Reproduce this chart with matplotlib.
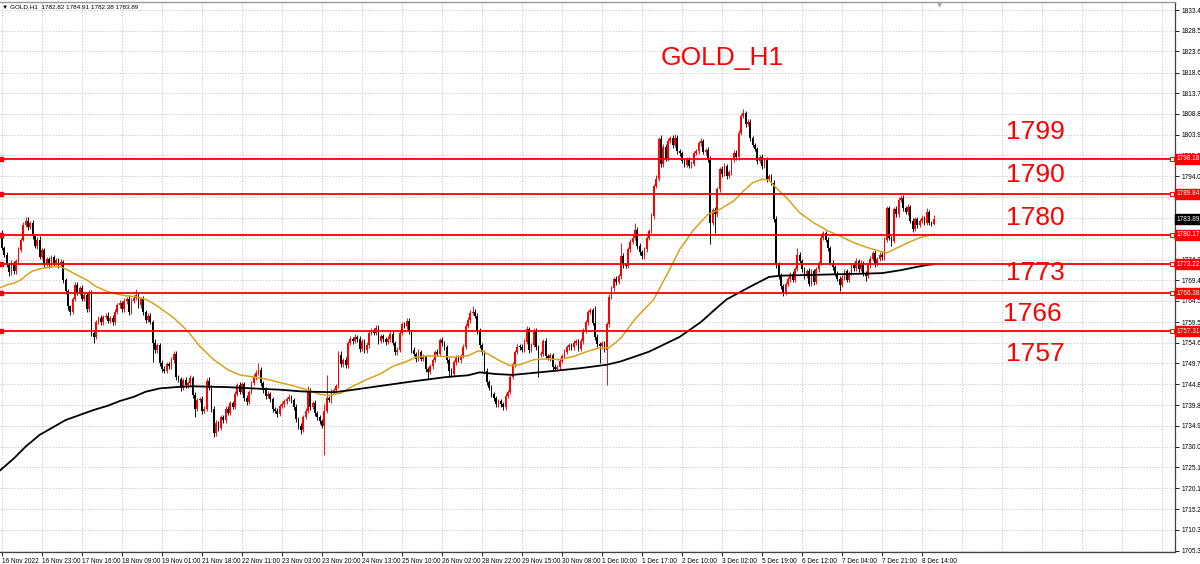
import matplotlib
matplotlib.use("Agg")
import matplotlib.pyplot as plt
import matplotlib.transforms as mtransforms

# ---------------- data ----------------
first_open = 1780.5
closes = [
    1777.0, 1775.4, 1773.0, 1771.4, 1773.5, 1771.5, 1774.0, 1776.6, 1779.0, 1782.5,
    1783.5, 1782.0, 1783.0, 1779.8, 1777.5, 1779.0, 1775.0, 1776.5, 1773.2, 1774.5,
    1773.0, 1774.8, 1773.5, 1774.2, 1773.0, 1773.8, 1769.5, 1766.8, 1763.2, 1762.0,
    1765.0, 1768.3, 1766.5, 1767.5, 1765.0, 1766.0, 1762.5, 1766.2, 1757.0, 1756.0,
    1759.5, 1760.5, 1759.5, 1760.8, 1761.0, 1759.8, 1760.5, 1759.5, 1762.0, 1763.5,
    1764.0, 1762.5, 1764.5, 1765.0, 1762.0, 1764.5, 1765.3, 1766.0, 1763.5, 1765.0,
    1761.8, 1760.0, 1761.0, 1759.6, 1754.5, 1753.0, 1754.0, 1749.8, 1748.5, 1748.0,
    1749.5, 1749.0, 1750.5, 1752.0, 1746.5, 1746.0, 1744.0, 1745.7, 1744.5, 1745.0,
    1746.3, 1742.2, 1739.0, 1741.0, 1741.3, 1738.5, 1739.0, 1745.5, 1744.0, 1739.0,
    1733.2, 1735.5, 1734.5, 1737.0, 1736.2, 1739.0, 1738.0, 1740.3, 1739.5, 1742.5,
    1744.5, 1743.0, 1744.8, 1741.5, 1740.5, 1743.0, 1745.0, 1746.5, 1747.5, 1748.2,
    1745.0, 1743.5, 1742.0, 1742.5, 1741.2, 1739.0, 1738.5, 1737.8, 1739.7, 1740.0,
    1740.8, 1741.2, 1741.8, 1741.0, 1739.5, 1736.5, 1735.0, 1734.0, 1737.0, 1738.5,
    1743.3, 1739.5, 1740.3, 1738.0, 1737.0, 1736.0, 1735.0, 1738.5, 1741.5, 1741.0,
    1743.0, 1743.5, 1744.3, 1751.8, 1749.5, 1750.5, 1749.3, 1754.5, 1755.5, 1755.0,
    1756.0, 1755.5, 1753.2, 1755.0, 1752.8, 1754.0, 1756.9, 1757.5, 1757.0, 1758.1,
    1755.0, 1756.2, 1755.5, 1754.8, 1755.5, 1756.8, 1754.5, 1752.4, 1753.0, 1757.0,
    1759.0, 1758.5, 1759.8, 1757.2, 1753.0, 1752.0, 1750.8, 1752.5, 1750.8, 1751.2,
    1748.4, 1747.6, 1749.0, 1750.5, 1752.4, 1752.0, 1755.3, 1754.5, 1753.5, 1750.5,
    1748.0, 1747.2, 1750.0, 1751.0, 1750.5, 1751.4, 1753.7, 1758.5, 1760.0, 1761.6,
    1762.0, 1761.0, 1757.5, 1754.0, 1752.5, 1748.0, 1745.2, 1744.0, 1742.5, 1741.5,
    1740.0, 1740.8, 1740.0, 1739.3, 1742.0, 1743.0, 1746.6, 1749.5, 1752.5, 1753.7,
    1753.5, 1753.0, 1754.9, 1757.8, 1753.0, 1754.0, 1757.5, 1753.5, 1751.8, 1752.0,
    1755.0, 1751.4, 1751.0, 1751.6, 1748.9, 1748.5, 1748.8, 1750.3, 1751.5, 1752.5,
    1753.5, 1754.0, 1753.5, 1754.6, 1755.0, 1753.2, 1755.0, 1757.5, 1759.5, 1761.8,
    1762.3, 1759.3, 1756.0, 1754.3, 1753.8, 1754.5, 1753.0, 1759.0, 1765.5, 1767.5,
    1769.6, 1769.0, 1770.4, 1775.1, 1773.0, 1772.8, 1776.7, 1778.5, 1779.5, 1781.4,
    1777.5, 1776.0, 1775.1, 1776.7, 1779.5, 1781.0, 1784.6, 1791.7, 1793.5, 1802.8,
    1797.0, 1801.0, 1798.2, 1802.5, 1803.0, 1801.5, 1803.2, 1800.0, 1799.5, 1797.6,
    1796.8, 1798.0, 1796.5, 1797.0, 1799.5, 1800.0, 1801.8, 1802.3, 1799.8, 1800.3,
    1798.0, 1783.0, 1786.0, 1785.0, 1790.9, 1795.7, 1794.5, 1796.5, 1794.1, 1795.0,
    1797.8, 1799.6, 1798.5, 1804.3, 1808.3, 1809.0, 1806.5, 1807.0, 1803.0, 1801.5,
    1800.4, 1797.6, 1798.5, 1796.4, 1797.8, 1793.3, 1794.0, 1792.5, 1784.0, 1773.0,
    1770.5, 1768.0, 1766.6, 1768.5, 1769.6, 1770.8, 1769.5, 1772.0, 1775.5, 1774.0,
    1772.0, 1770.5, 1771.5, 1768.6, 1771.5, 1769.0, 1772.0, 1773.5, 1779.5, 1780.5,
    1779.0, 1777.0, 1773.5, 1772.5, 1771.0, 1769.8, 1768.2, 1770.0, 1771.5, 1769.5,
    1771.2, 1773.0, 1772.2, 1774.0, 1772.0, 1773.5, 1771.0, 1770.5, 1773.0, 1774.5,
    1775.9, 1773.2, 1774.5, 1775.5, 1774.8, 1779.0, 1786.5, 1779.5, 1778.8, 1786.2,
    1785.0, 1788.5, 1789.0, 1786.5, 1785.5, 1786.8, 1783.5, 1781.5, 1783.8, 1782.5,
    1783.5, 1784.2, 1783.0, 1785.5, 1783.0, 1782.82, 1783.89,
]
wick_up = [
    0.8, 0.5, 0.7, 0.4, 0.6, 0.5, 0.4, 0.6, 0.5, 0.7,
    0.9, 1.0, 0.5, 0.6, 0.4, 0.6, 0.8, 0.5, 0.6, 0.5,
    0.4, 0.5, 0.6, 0.4, 0.5, 0.6, 0.4, 0.5, 0.6, 0.4,
    0.5, 0.6, 0.8, 0.5, 0.7, 0.5, 0.6, 0.8, 0.9, 0.5,
    0.6, 0.5, 0.7, 0.4, 0.6, 0.8, 0.5, 0.6, 0.5, 0.6,
    0.7, 0.5, 0.6, 0.5, 0.8, 0.6, 0.7, 1.3, 0.6, 0.5,
    0.6, 0.5, 0.7, 0.6, 0.5, 0.9, 0.6, 0.5, 0.7, 0.5,
    0.6, 0.5, 0.7, 0.6, 0.6, 0.5, 0.4, 0.6, 0.8, 0.5,
    0.6, 0.5, 0.7, 0.6, 0.5, 0.8, 0.6, 0.7, 0.9, 0.5,
    0.6, 0.7, 0.5, 0.6, 0.5, 0.7, 0.6, 0.5, 0.6, 0.7,
    0.6, 0.8, 0.5, 0.6, 0.7, 0.5, 0.6, 0.7, 0.6, 1.6,
    0.6, 0.5, 0.7, 0.6, 0.5, 0.6, 0.5, 0.6, 0.5, 0.6,
    0.5, 0.6, 0.7, 0.5, 0.6, 0.5, 0.6, 0.5, 0.6, 0.7,
    1.0, 0.6, 0.5, 0.7, 0.5, 0.6, 0.5, 1.5, 5.5, 0.6,
    0.7, 0.5, 0.6, 0.9, 0.8, 0.6, 0.7, 0.6, 0.7, 0.5,
    0.6, 0.5, 0.7, 0.5, 0.6, 0.8, 0.6, 0.5, 0.7, 0.6,
    0.7, 0.5, 0.6, 0.5, 0.6, 0.5, 0.7, 0.6, 0.5, 0.6,
    0.5, 0.6, 0.7, 0.6, 0.5, 0.6, 0.5, 0.6, 0.5, 0.7,
    0.6, 0.5, 0.6, 0.5, 0.6, 0.7, 0.5, 0.6, 0.5, 0.6,
    0.5, 0.6, 0.5, 0.7, 0.6, 0.5, 0.6, 0.7, 0.6, 0.8,
    1.2, 0.6, 0.7, 0.5, 0.6, 0.5, 0.6, 0.5, 0.6, 0.5,
    0.6, 0.5, 0.6, 0.5, 0.6, 0.5, 0.7, 0.6, 0.5, 0.6,
    0.6, 0.7, 0.5, 0.7, 0.6, 0.5, 0.6, 0.7, 0.5, 0.6,
    0.5, 0.7, 0.5, 0.6, 0.5, 0.6, 0.5, 0.6, 0.5, 0.6,
    0.5, 0.6, 0.5, 0.6, 0.5, 0.6, 0.7, 0.5, 0.6, 0.5,
    0.5, 0.6, 4.0, 0.6, 0.5, 0.6, 0.5, 0.6, 0.7, 0.6,
    0.5, 0.8, 0.6, 3.2, 0.7, 0.6, 0.5, 0.6, 0.7, 1.5,
    0.6, 0.7, 0.5, 0.6, 0.5, 0.6, 0.7, 0.6, 0.8, 0.5,
    1.0, 0.6, 0.7, 0.5, 0.6, 0.7, 0.8, 0.6, 0.5, 0.6,
    0.5, 0.6, 0.5, 0.6, 0.5, 0.6, 0.5, 0.7, 0.6, 0.5,
    0.6, 0.8, 0.6, 0.7, 0.6, 0.5, 0.7, 0.6, 0.5, 0.6,
    0.5, 0.6, 0.7, 0.6, 0.5, 0.9, 0.6, 0.5, 0.7, 0.6,
    0.5, 0.6, 0.5, 0.7, 0.6, 0.7, 0.6, 0.5, 0.7, 0.6,
    0.7, 0.6, 0.5, 0.6, 0.5, 0.6, 0.7, 0.5, 1.5, 0.6,
    0.5, 0.6, 0.5, 0.7, 0.6, 0.5, 0.6, 0.5, 0.7, 0.6,
    0.5, 0.6, 0.5, 0.6, 0.5, 0.6, 0.5, 0.6, 0.5, 0.6,
    0.5, 0.6, 0.5, 0.6, 0.5, 0.6, 0.5, 0.6, 0.5, 0.6,
    0.5, 0.6, 0.5, 0.6, 0.5, 0.6, 0.5, 0.6, 0.5, 0.6,
    0.7, 0.6, 0.7, 0.6, 0.5, 0.6, 0.5, 0.6, 0.5, 0.6,
    0.5, 0.6, 0.5, 1.1, 0.6, 0.5, 1.02,
]
wick_dn = [
    0.5, 0.6, 0.5, 1.0, 0.8, 0.6, 0.5, 0.6, 0.5, 0.4,
    0.5, 0.6, 0.5, 0.7, 0.5, 0.6, 0.5, 0.6, 0.7, 0.5,
    0.6, 0.5, 0.6, 0.5, 0.6, 0.5, 0.7, 0.6, 0.8, 0.8,
    0.6, 0.5, 0.6, 0.7, 0.6, 0.5, 0.7, 0.6, 0.8, 1.4,
    0.6, 0.5, 0.7, 0.6, 0.5, 0.6, 0.5, 0.6, 0.7, 0.5,
    0.6, 0.5, 0.7, 0.6, 0.8, 0.6, 0.5, 0.6, 0.7, 0.6,
    0.6, 0.7, 0.5, 0.6, 4.5, 0.8, 0.7, 0.6, 0.7, 0.6,
    0.5, 0.6, 0.5, 0.6, 0.7, 0.6, 0.8, 0.6, 0.5, 0.6,
    0.6, 0.7, 2.0, 0.6, 0.5, 0.7, 0.6, 0.5, 0.6, 0.7,
    0.8, 0.6, 0.7, 0.5, 0.6, 0.5, 0.6, 0.5, 0.6, 0.5,
    0.6, 0.5, 0.6, 0.7, 0.6, 0.5, 0.6, 0.5, 0.6, 0.5,
    0.6, 0.7, 0.6, 0.5, 0.6, 0.7, 0.6, 0.7, 0.5, 0.6,
    0.5, 0.6, 0.5, 0.6, 0.7, 0.6, 0.7, 1.0, 0.6, 0.5,
    0.6, 0.7, 0.6, 0.7, 0.6, 0.7, 0.6, 6.9, 0.6, 0.5,
    0.6, 0.5, 0.6, 0.5, 0.7, 0.6, 0.7, 0.6, 0.5, 0.6,
    0.5, 0.6, 0.7, 0.5, 0.6, 0.5, 0.6, 0.5, 0.6, 0.5,
    0.6, 0.5, 0.6, 0.7, 0.5, 0.6, 0.5, 0.7, 0.6, 0.5,
    0.6, 0.5, 0.6, 0.5, 0.7, 0.6, 0.7, 0.5, 0.6, 0.5,
    0.6, 1.7, 0.5, 0.6, 0.5, 0.6, 0.5, 0.6, 0.7, 0.6,
    1.4, 0.6, 0.5, 0.6, 0.5, 0.6, 0.5, 0.6, 0.5, 0.6,
    0.5, 0.6, 0.7, 0.6, 0.7, 0.6, 0.7, 0.6, 0.7, 0.6,
    0.7, 0.6, 0.7, 0.5, 0.6, 0.5, 0.6, 0.5, 0.6, 0.5,
    0.6, 0.5, 0.6, 0.5, 0.7, 0.6, 0.5, 0.6, 5.2, 0.6,
    0.5, 0.6, 0.5, 0.6, 0.7, 0.6, 0.5, 0.6, 0.5, 0.6,
    0.5, 0.6, 0.5, 0.6, 0.5, 0.6, 0.5, 0.6, 0.5, 0.6,
    0.5, 0.6, 0.7, 0.6, 4.0, 0.6, 0.5, 8.3, 0.6, 0.5,
    0.6, 0.7, 0.5, 0.6, 0.7, 0.6, 0.5, 0.6, 0.5, 0.6,
    0.7, 0.6, 0.7, 0.6, 0.5, 0.6, 0.5, 0.6, 0.5, 0.6,
    0.8, 0.7, 0.6, 0.5, 0.6, 0.7, 0.6, 0.7, 0.6, 0.5,
    0.6, 0.5, 0.6, 0.5, 0.6, 0.5, 0.6, 0.5, 0.6, 0.7,
    0.6, 5.0, 0.6, 4.3, 0.6, 0.5, 0.6, 0.5, 0.6, 0.5,
    0.6, 0.5, 0.6, 0.5, 0.6, 0.5, 0.7, 0.6, 0.7, 0.6,
    0.5, 0.6, 0.5, 0.6, 0.5, 0.6, 0.5, 0.6, 0.7, 0.8,
    0.7, 0.6, 1.0, 0.6, 0.5, 0.6, 0.5, 0.6, 0.5, 0.6,
    0.6, 0.7, 0.5, 0.6, 0.5, 0.6, 0.5, 0.6, 0.5, 0.6,
    0.5, 0.6, 0.5, 0.6, 0.5, 0.6, 1.3, 0.5, 0.6, 0.5,
    0.6, 0.5, 0.6, 0.5, 0.6, 0.5, 0.6, 1.3, 0.5, 0.6,
    0.5, 0.6, 0.5, 0.6, 0.5, 0.6, 0.5, 0.6, 1.3, 0.6,
    0.5, 0.6, 0.5, 0.6, 0.5, 0.6, 0.5, 0.6, 0.5, 0.6,
    0.5, 0.6, 0.5, 0.6, 0.5, 0.6, 0.44,
]

# moving averages, read at bar positions
ma_gold_bars = [-1, 2, 5, 8, 11, 13, 16, 19, 22, 25, 28, 32, 36, 40, 45, 49, 53, 57, 62, 66,
                73, 79, 84, 90, 96, 101, 107, 113, 118, 124, 130, 135, 139, 144, 149, 155,
                161, 166, 172, 176, 181, 186, 192, 198, 202, 204, 207, 212, 216, 220, 226,
                232, 237, 243, 249, 254, 258, 263, 269, 277, 283, 288, 294, 300, 305, 311,
                315, 319, 323, 326, 329, 334, 339, 345, 351, 356, 362, 368, 373, 376, 379,
                385, 390, 396]
ma_gold_vals = [1767.6, 1768.3, 1768.7, 1769.5, 1770.9, 1771.6, 1772.1, 1772.4, 1772.6, 1772.6,
                1771.8, 1770.6, 1769.5, 1767.9, 1766.7, 1766.1, 1765.7, 1765.5, 1764.7, 1763.3,
                1760.5, 1757.3, 1753.8, 1750.6, 1748.2, 1747.0, 1746.5, 1745.9, 1745.2, 1744.4,
                1743.4, 1742.4, 1742.1, 1742.7, 1744.3, 1745.9, 1747.3, 1749.0, 1750.2, 1751.2,
                1751.5, 1751.4, 1751.2, 1751.5, 1752.6, 1752.7, 1751.8, 1750.2, 1749.2, 1749.4,
                1750.6, 1750.8, 1750.6, 1751.4, 1752.6, 1753.4, 1753.4, 1755.7, 1760.2, 1764.9,
                1771.2, 1776.7, 1781.4, 1785.0, 1786.2, 1788.2, 1790.5, 1792.5, 1793.3, 1793.1,
                1791.3, 1788.6, 1785.4, 1783.0, 1781.1, 1779.9, 1778.3, 1777.1, 1776.3, 1775.9,
                1776.7, 1778.3, 1779.5, 1780.3]
ma_black_bars = [-1, 5, 10, 16, 22, 27, 33, 39, 45, 50, 56, 61, 67, 76, 81, 88, 96, 103, 110,
                 118, 127, 132, 141, 147, 161, 175, 189, 198, 203, 210, 217, 232, 246, 257,
                 263, 275, 288, 297, 303, 308, 318, 326, 331, 339, 353, 368, 374, 382, 389,
                 394, 396]
ma_black_vals = [1724.3, 1727.2, 1730.0, 1732.8, 1734.7, 1736.3, 1737.5, 1738.7, 1739.7, 1740.8,
                 1741.8, 1743.0, 1743.8, 1744.2, 1744.3, 1744.2, 1744.1, 1743.9, 1743.7, 1743.5,
                 1743.1, 1743.0, 1742.9, 1743.3, 1744.4, 1745.5, 1746.5, 1746.9, 1747.6, 1747.2,
                 1747.0, 1747.8, 1748.6, 1749.4, 1750.2, 1752.5, 1756.0, 1759.5, 1762.5, 1764.9,
                 1767.9, 1770.2, 1770.5, 1770.6, 1770.8, 1771.0, 1771.1, 1771.8, 1772.6, 1773.1,
                 1773.2]

levels = [1798.18, 1789.84, 1780.17, 1773.22, 1766.38, 1757.31]
level_texts = ["1799", "1790", "1780", "1773", "1766", "1757"]
current_price = 1783.89

price_ticks = [1833.40, 1828.50, 1823.60, 1818.60, 1813.70, 1808.80, 1803.90, 1799.00,
               1794.00, 1789.10, 1784.20, 1779.30, 1774.30, 1769.40, 1764.50, 1759.50,
               1754.60, 1749.70, 1744.80, 1739.80, 1734.90, 1730.00, 1725.10, 1720.10,
               1715.20, 1710.30, 1705.30]
time_labels = ["16 Nov 2022", "16 Nov 23:00", "17 Nov 16:00", "18 Nov 09:00", "19 Nov 01:00",
               "21 Nov 18:00", "22 Nov 11:00", "23 Nov 03:00", "23 Nov 20:00", "24 Nov 13:00",
               "25 Nov 10:00", "26 Nov 02:00", "28 Nov 22:00", "29 Nov 15:00", "30 Nov 08:00",
               "1 Dec 00:00", "1 Dec 17:00", "2 Dec 10:00", "3 Dec 02:00", "5 Dec 19:00",
               "6 Dec 12:00", "7 Dec 04:00", "7 Dec 21:00", "8 Dec 14:00"]
bars_per_label = 17
header = "\u25BC GOLD,H1  1782.82 1784.91 1782.38 1783.89"
title = "GOLD_H1"

# ---------------- derived OHLC ----------------
n = min(len(closes), len(wick_up), len(wick_dn))
closes = closes[:n]
opens = [first_open] + closes[:-1]
highs = [max(o, c) + u for o, c, u in zip(opens, closes, wick_up)]
lows = [min(o, c) - d for o, c, d in zip(opens, closes, wick_dn)]

FONT = ["Liberation Sans", "DejaVu Sans"]
plt.rcParams["font.family"] = FONT

W, H = 1200, 564
fig = plt.figure(figsize=(W / 100, H / 100), dpi=100)
fig.patch.set_facecolor("white")
ax = fig.add_axes([0, 12 / H, 1175 / W, 550 / H])
ax.set_facecolor("white")
ax.set_xlim(-0.85, 498.5)
ax.set_ylim(1705.06, 1835.3)

RED = "#ff0000"
GRID = "#c0c0c0"

# grid
ax.set_yticks(price_ticks)
ax.set_yticklabels([f"{v:.2f}" for v in price_ticks])
ax.grid(axis="y", color=GRID, linestyle=(0, (1.5, 2.0)), linewidth=0.6)
xmax = ax.get_xlim()[1]
k = 0
while k * bars_per_label < xmax:
    ax.axvline(k * bars_per_label, color=GRID, linestyle=(0, (1.5, 2.0)), linewidth=0.6, zorder=0.4)
    k += 1

# candles
xs = list(range(n))
up_x = [i for i in xs if closes[i] >= opens[i]]
dn_x = [i for i in xs if closes[i] < opens[i]]
for idx, col in ((up_x, RED), (dn_x, "black")):
    ax.vlines(idx, [lows[i] for i in idx], [highs[i] for i in idx], colors=col, linewidth=0.65, zorder=3)
    bottoms = [min(opens[i], closes[i]) for i in idx]
    heights = [max(abs(closes[i] - opens[i]), 0.25) for i in idx]
    ax.bar(idx, heights, bottom=bottoms, width=0.74, color=col, linewidth=0, zorder=3)

# moving averages
ax.plot(ma_gold_bars, ma_gold_vals, color="#d9a21b", linewidth=1.1, zorder=4)
ax.plot(ma_black_bars, ma_black_vals, color="black", linewidth=1.3, zorder=4)

# horizontal levels
trans = mtransforms.blended_transform_factory(ax.transAxes, ax.transData)
for v in levels:
    ax.axhline(v, color=RED, linewidth=1.3, zorder=5)
    ax.plot([-0.35], [v], marker="s", markersize=2.6, color=RED, zorder=6, clip_on=False)
    ax.plot([xmax - 1.2], [v], marker="s", markersize=2.8, markerfacecolor="white",
            markeredgecolor=RED, markeredgewidth=0.7, zorder=6)
    ax.text(1.0 + 2 / 1175, v, f"{v:.2f}", transform=trans, fontsize=4.7, color="white",
            ha="left", va="center", zorder=10, clip_on=False,
            bbox=dict(boxstyle="square,pad=0.25", facecolor=RED, edgecolor=RED))
ax.text(1.0 + 2 / 1175, current_price, f"{current_price:.2f}", transform=trans, fontsize=4.7,
        color="white", ha="left", va="center", zorder=10, clip_on=False,
        bbox=dict(boxstyle="square,pad=0.25", facecolor="black", edgecolor="black"))

# axes cosmetics
ax.yaxis.tick_right()
ax.tick_params(axis="y", length=3, width=0.6, labelsize=4.7, pad=1.5, colors="black")
ax.set_xticks([i * bars_per_label for i in range(len(time_labels))])
ax.set_xticklabels(time_labels)
for lab in ax.get_xticklabels():
    lab.set_horizontalalignment("left")
ax.tick_params(axis="x", length=3, width=0.6, labelsize=4.7, pad=1.5, colors="black")
ax.spines["left"].set_visible(False)
ax.spines["top"].set_color("#9a9a9a")
ax.spines["top"].set_linewidth(1.0)
ax.spines["right"].set_color("#404040")
ax.spines["bottom"].set_color("#404040")
ax.spines["right"].set_linewidth(0.9)
ax.spines["bottom"].set_linewidth(0.9)

# texts
fig.text(2 / W, 1 - 7 / H, header, fontsize=4.6, va="center", ha="left", color="black",
         family=FONT)
fig.text(940 / W, 1 - 5 / H, "\u25BC", fontsize=5, va="center", ha="center", color="#a8a8a8",
         family=["DejaVu Sans"])
fig.text(722 / W, 1 - 58 / H, title, fontsize=19, color=RED, ha="center", va="center")
text_y = [132, 175, 218, 273, 314, 354]
text_x = [1035, 1035, 1035, 1035, 1032, 1035]
for t, yy, xx in zip(level_texts, text_y, text_x):
    fig.text(xx / W, 1 - yy / H, t, fontsize=19, color=RED, ha="center", va="center")

fig.savefig("out.png", dpi=100, facecolor="white")
